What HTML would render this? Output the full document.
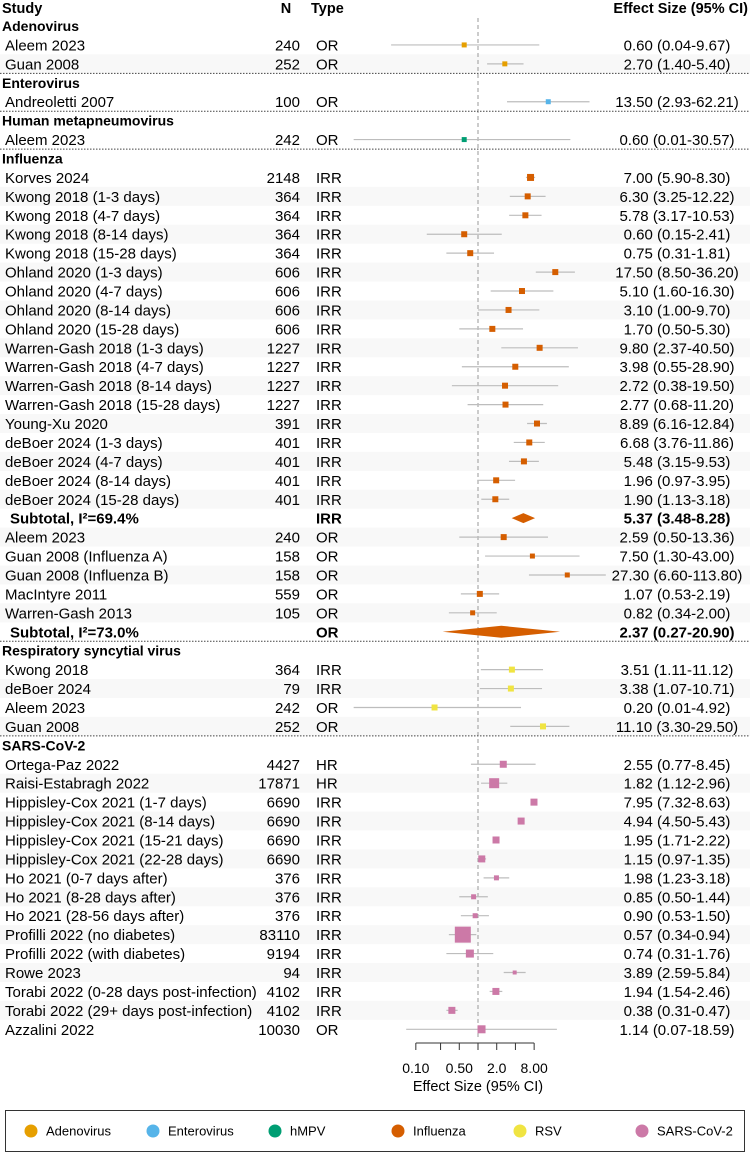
<!DOCTYPE html>
<html><head><meta charset="utf-8"><style>
html,body{margin:0;padding:0;background:#fff;}
svg{display:block;font-family:"Liberation Sans",Arial,sans-serif;}
</style></head><body>
<svg id="chart" width="750" height="1154" viewBox="0 0 750 1154" xmlns="http://www.w3.org/2000/svg"></svg>
<script>
// ---- data ----
const rowKinds = ['h','s','s','h','s','h','s','h','s','s','s','s','s','s','s','s','s','s','s','s','s','s','s','s','s','s','t','s','s','s','s','s','t','h','s','s','s','s','h','s','s','s','s','s','s','s','s','s','s','s','s','s','s','s'];
const labels = ['Adenovirus','Aleem 2023','Guan 2008','Enterovirus','Andreoletti 2007','Human metapneumovirus','Aleem 2023','Influenza','Korves 2024','Kwong 2018 (1-3 days)','Kwong 2018 (4-7 days)','Kwong 2018 (8-14 days)','Kwong 2018 (15-28 days)','Ohland 2020 (1-3 days)','Ohland 2020 (4-7 days)','Ohland 2020 (8-14 days)','Ohland 2020 (15-28 days)','Warren-Gash 2018 (1-3 days)','Warren-Gash 2018 (4-7 days)','Warren-Gash 2018 (8-14 days)','Warren-Gash 2018 (15-28 days)','Young-Xu 2020','deBoer 2024 (1-3 days)','deBoer 2024 (4-7 days)','deBoer 2024 (8-14 days)','deBoer 2024 (15-28 days)','Subtotal, I²=69.4%','Aleem 2023','Guan 2008 (Influenza A)','Guan 2008 (Influenza B)','MacIntyre 2011','Warren-Gash 2013','Subtotal, I²=73.0%','Respiratory syncytial virus','Kwong 2018','deBoer 2024','Aleem 2023','Guan 2008','SARS-CoV-2','Ortega-Paz 2022','Raisi-Estabragh 2022','Hippisley-Cox 2021 (1-7 days)','Hippisley-Cox 2021 (8-14 days)','Hippisley-Cox 2021 (15-21 days)','Hippisley-Cox 2021 (22-28 days)','Ho 2021 (0-7 days after)','Ho 2021 (8-28 days after)','Ho 2021 (28-56 days after)','Profilli 2022 (no diabetes)','Profilli 2022 (with diabetes)','Rowe 2023','Torabi 2022 (0-28 days post-infection)','Torabi 2022 (29+ days post-infection)','Azzalini 2022'];
const nValues = ['','240','252','','100','','242','','2148','364','364','364','364','606','606','606','606','1227','1227','1227','1227','391','401','401','401','401','','240','158','158','559','105','','','364','79','242','252','','4427','17871','6690','6690','6690','6690','376','376','376','83110','9194','94','4102','4102','10030'];
const types = ['','OR','OR','','OR','','OR','','IRR','IRR','IRR','IRR','IRR','IRR','IRR','IRR','IRR','IRR','IRR','IRR','IRR','IRR','IRR','IRR','IRR','IRR','IRR','OR','OR','OR','OR','OR','OR','','IRR','IRR','OR','OR','','HR','HR','IRR','IRR','IRR','IRR','IRR','IRR','IRR','IRR','IRR','IRR','IRR','IRR','OR'];
const estimates = [null,0.60,2.70,null,13.50,null,0.60,null,7.00,6.30,5.78,0.60,0.75,17.50,5.10,3.10,1.70,9.80,3.98,2.72,2.77,8.89,6.68,5.48,1.96,1.90,5.37,2.59,7.50,27.30,1.07,0.82,2.37,null,3.51,3.38,0.20,11.10,null,2.55,1.82,7.95,4.94,1.95,1.15,1.98,0.85,0.90,0.57,0.74,3.89,1.94,0.38,1.14];
const lows = [null,0.04,1.40,null,2.93,null,0.01,null,5.90,3.25,3.17,0.15,0.31,8.50,1.60,1.00,0.50,2.37,0.55,0.38,0.68,6.16,3.76,3.15,0.97,1.13,3.48,0.50,1.30,6.60,0.53,0.34,0.27,null,1.11,1.07,0.01,3.30,null,0.77,1.12,7.32,4.50,1.71,0.97,1.23,0.50,0.53,0.34,0.31,2.59,1.54,0.31,0.07];
const highs = [null,9.67,5.40,null,62.21,null,30.57,null,8.30,12.22,10.53,2.41,1.81,36.20,16.30,9.70,5.30,40.50,28.90,19.50,11.20,12.84,11.86,9.53,3.95,3.18,8.28,13.36,43.00,113.80,2.19,2.00,20.90,null,11.12,10.71,4.92,29.50,null,8.45,2.96,8.63,5.43,2.22,1.35,3.18,1.44,1.50,0.94,1.76,5.84,2.46,0.47,18.59];
const weights = [0,5,5,0,5,0,5,0,7,6,6,6,6,6,6,6,6,6,6,6,6,6,6,6,6,6,10,6,5,5,6,5,12,0,6,6,6,6,0,7,10,7,7,7,7,5,5,5,16,8,4,7,7,8];
const groupOfRow = ['Adenovirus','Adenovirus','Adenovirus','Enterovirus','Enterovirus','hMPV','hMPV','Influenza','Influenza','Influenza','Influenza','Influenza','Influenza','Influenza','Influenza','Influenza','Influenza','Influenza','Influenza','Influenza','Influenza','Influenza','Influenza','Influenza','Influenza','Influenza','Influenza','Influenza','Influenza','Influenza','Influenza','Influenza','Influenza','RSV','RSV','RSV','RSV','RSV','SARS-CoV-2','SARS-CoV-2','SARS-CoV-2','SARS-CoV-2','SARS-CoV-2','SARS-CoV-2','SARS-CoV-2','SARS-CoV-2','SARS-CoV-2','SARS-CoV-2','SARS-CoV-2','SARS-CoV-2','SARS-CoV-2','SARS-CoV-2','SARS-CoV-2','SARS-CoV-2'];
const legendNames = ['Adenovirus','Enterovirus','hMPV','Influenza','RSV','SARS-CoV-2'];
const legendColors = ['#E69F00','#56B4E9','#009E73','#D55E00','#F0E442','#CC79A7'];
const tickValues = [0.1,0.25,0.5,1,2,4,8];
const tickLabels = ['0.10','','0.50','','2.0','','8.00'];

// ---- scales ----
const X0 = 478, PX_PER_LN = 27;
function xScale(v){ return X0 + PX_PER_LN*Math.log(v); }
function yRow(i){ return 26 + i*18.93; }
const NS='http://www.w3.org/2000/svg';
const svg=document.getElementById('chart');
function el(tag, attrs, parent){ const e=document.createElementNS(NS,tag); for(const k in attrs) e.setAttribute(k,attrs[k]); (parent||svg).appendChild(e); return e; }
function txt(s, attrs, parent){ const e=el('text',attrs,parent); e.textContent=s; return e; }
const colorOf = {}; legendNames.forEach((n,i)=>colorOf[n]=legendColors[i]);
const FS='15';

// header
const hdr=el('g',{});


const hs={'font-size':'14.5','font-weight':'bold',fill:'#000'};
let t;
t=txt('Study',Object.assign({x:2,y:13},hs),hdr);  
t=txt('N',Object.assign({x:286,y:13,'text-anchor':'middle'},hs),hdr);  
t=txt('Type',Object.assign({x:311,y:13},hs),hdr);  
t=txt('Effect Size (95% CI)',Object.assign({x:748,y:13,'text-anchor':'end'},hs),hdr);  

// row shading
let idxInGroup=0;
rowKinds.forEach((k,i)=>{
  if(k==='h'){ idxInGroup=0; return; }
  if(idxInGroup%2===1){
    const r=el('rect',{x:0,y:yRow(i)-9.5,width:750,height:19,fill:'#f8f8f8'});
    
    
  }
  idxInGroup++;
});

// reference line
const ref=el('line',{x1:X0,x2:X0,y1:18,y2:1040,stroke:'#9a9a9a','stroke-width':1,'stroke-dasharray':'4,3'});



// rows
rowKinds.forEach((k,i)=>{
  const y=yRow(i);
  const g=el('g',{});
  const col=colorOf[groupOfRow[i]];
  if(k==='h'){
    
    
    txt(labels[i],{x:2,y:y+5,'font-size':'14','font-weight':'bold'},g);
    return;
  }
  const bold = k==='t';
  
  
  const fw = bold?'bold':'normal';
  txt(labels[i],{x:bold?10:5,y:y+5.5,'font-size':FS,'font-weight':fw},g);
  if(nValues[i]) txt(nValues[i],{x:300,y:y+5.5,'font-size':FS,'text-anchor':'end'},g);
  txt(types[i],{x:316,y:y+5.5,'font-size':FS,'font-weight':fw},g);
  const e=estimates[i], lo=lows[i], hi=highs[i];
  txt(e.toFixed(2)+' ('+lo.toFixed(2)+'-'+hi.toFixed(2)+')',{x:677,y:y+5.5,'font-size':FS,'font-weight':fw,'text-anchor':'middle'},g);
  if(k==='t'){
    const h=weights[i]/2;
    const d=el('polygon',{points:`${xScale(lo)},${y} ${xScale(e)},${y-h} ${xScale(hi)},${y} ${xScale(e)},${y+h}`,fill:col},g);
    
    
  } else {
    const l=el('line',{x1:xScale(lo),x2:xScale(hi),y1:y,y2:y,stroke:'#bdbdbd','stroke-width':1.2},g);
    
    
    const s=weights[i];
    const b=el('rect',{x:xScale(e)-s/2,y:y-s/2,width:s,height:s,fill:col},g);
    
    
  }
});

// group separators
groupOfRow.forEach((gname,i)=>{
  if(i===groupOfRow.length-1) return;
  if(groupOfRow[i+1]!==gname){
    const yy=yRow(i)+9.5;
    const s=el('line',{x1:0,x2:750,y1:yy,y2:yy,stroke:'#444','stroke-width':1,'stroke-dasharray':'1.5,1.5'});
    
    
  }
});

// x axis
const ax=el('g',{});


const axY=1043;
el('line',{x1:xScale(tickValues[0]),x2:xScale(tickValues[tickValues.length-1]),y1:axY,y2:axY,stroke:'#333','stroke-width':1},ax);
tickValues.forEach((v,i)=>{
  const tk=el('line',{x1:xScale(v),x2:xScale(v),y1:axY,y2:axY+7,stroke:'#333','stroke-width':1},ax);
  
  
  if(tickLabels[i]){
    const tl=txt(tickLabels[i],{x:xScale(v),y:1073,'font-size':'14','text-anchor':'middle'},ax);
    
    
  }
});
const at=txt('Effect Size (95% CI)',{x:478,y:1091,'font-size':'14.5','text-anchor':'middle'},ax);



// legend
const lg=el('g',{});


el('rect',{x:5.5,y:1110.5,width:739,height:41,fill:'#fff',stroke:'#333','stroke-width':1},lg);
const legX=[31,153,275,398,520,642];
legendNames.forEach((n,i)=>{
  const eg=el('g',{},lg);
  
  
  el('circle',{cx:legX[i],cy:1131,r:6.5,fill:legendColors[i]},eg);
  txt(n,{x:legX[i]+15,y:1135.5,'font-size':'13'},eg);
});
</script>
</body></html>
